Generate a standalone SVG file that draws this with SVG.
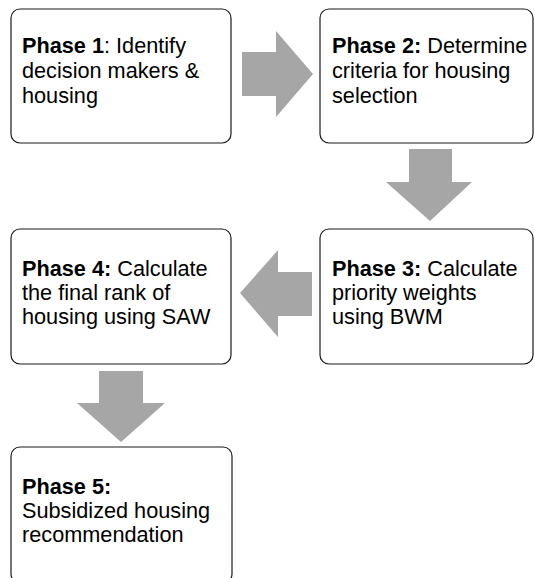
<svg xmlns="http://www.w3.org/2000/svg" width="535" height="578" viewBox="0 0 535 578">
<style>
.box{fill:#ffffff;stroke:#1a1a1a;stroke-width:1.2}
.arr{fill:#a6a6a6;stroke:none}
text{font-family:"Liberation Sans",Arial,sans-serif;font-size:21.7px;fill:#000}
.b{font-weight:bold}
</style>
<rect width="535" height="578" fill="#ffffff"/>
<g id="connectors">
<polygon class="arr" points="242,52 276,52 276,31 313,74 276,117 276,96 242,96"/>
<polygon class="arr" points="409,149 452,149 452,182 472,182 430,221 386,182 409,182"/>
<polygon class="arr" points="312,272 278,272 278,250 240,293 278,337 278,316 312,316"/>
<polygon class="arr" points="99,371 143,371 143,403 165,403 121,442 77,403 99,403"/>
</g>
<g id="phase1">
<rect class="box" x="11" y="9" width="220" height="134" rx="9"/>
<text x="22" y="53"><tspan class="b">Phase 1</tspan>: Identify</text>
<text x="22" y="78">decision makers &amp;</text>
<text x="22" y="103">housing</text>
</g>
<g id="phase2">
<rect class="box" x="320" y="9" width="213" height="134" rx="9"/>
<text x="332" y="53"><tspan class="b">Phase 2:</tspan> Determine</text>
<text x="332" y="78">criteria for housing</text>
<text x="332" y="103">selection</text>
</g>
<g id="phase3">
<rect class="box" x="320" y="229" width="213" height="135" rx="9"/>
<text x="332" y="276"><tspan class="b">Phase 3:</tspan> Calculate</text>
<text x="332" y="300">priority weights</text>
<text x="332" y="324">using BWM</text>
</g>
<g id="phase4">
<rect class="box" x="11" y="229" width="220" height="135" rx="9"/>
<text x="22" y="276"><tspan class="b">Phase 4:</tspan> Calculate</text>
<text x="22" y="300">the final rank of</text>
<text x="22" y="324">housing using SAW</text>
</g>
<g id="phase5">
<rect class="box" x="11" y="447" width="221" height="136" rx="9"/>
<text x="22" y="494"><tspan class="b">Phase 5:</tspan></text>
<text x="22" y="518">Subsidized housing</text>
<text x="22" y="542">recommendation</text>
</g>
</svg>
